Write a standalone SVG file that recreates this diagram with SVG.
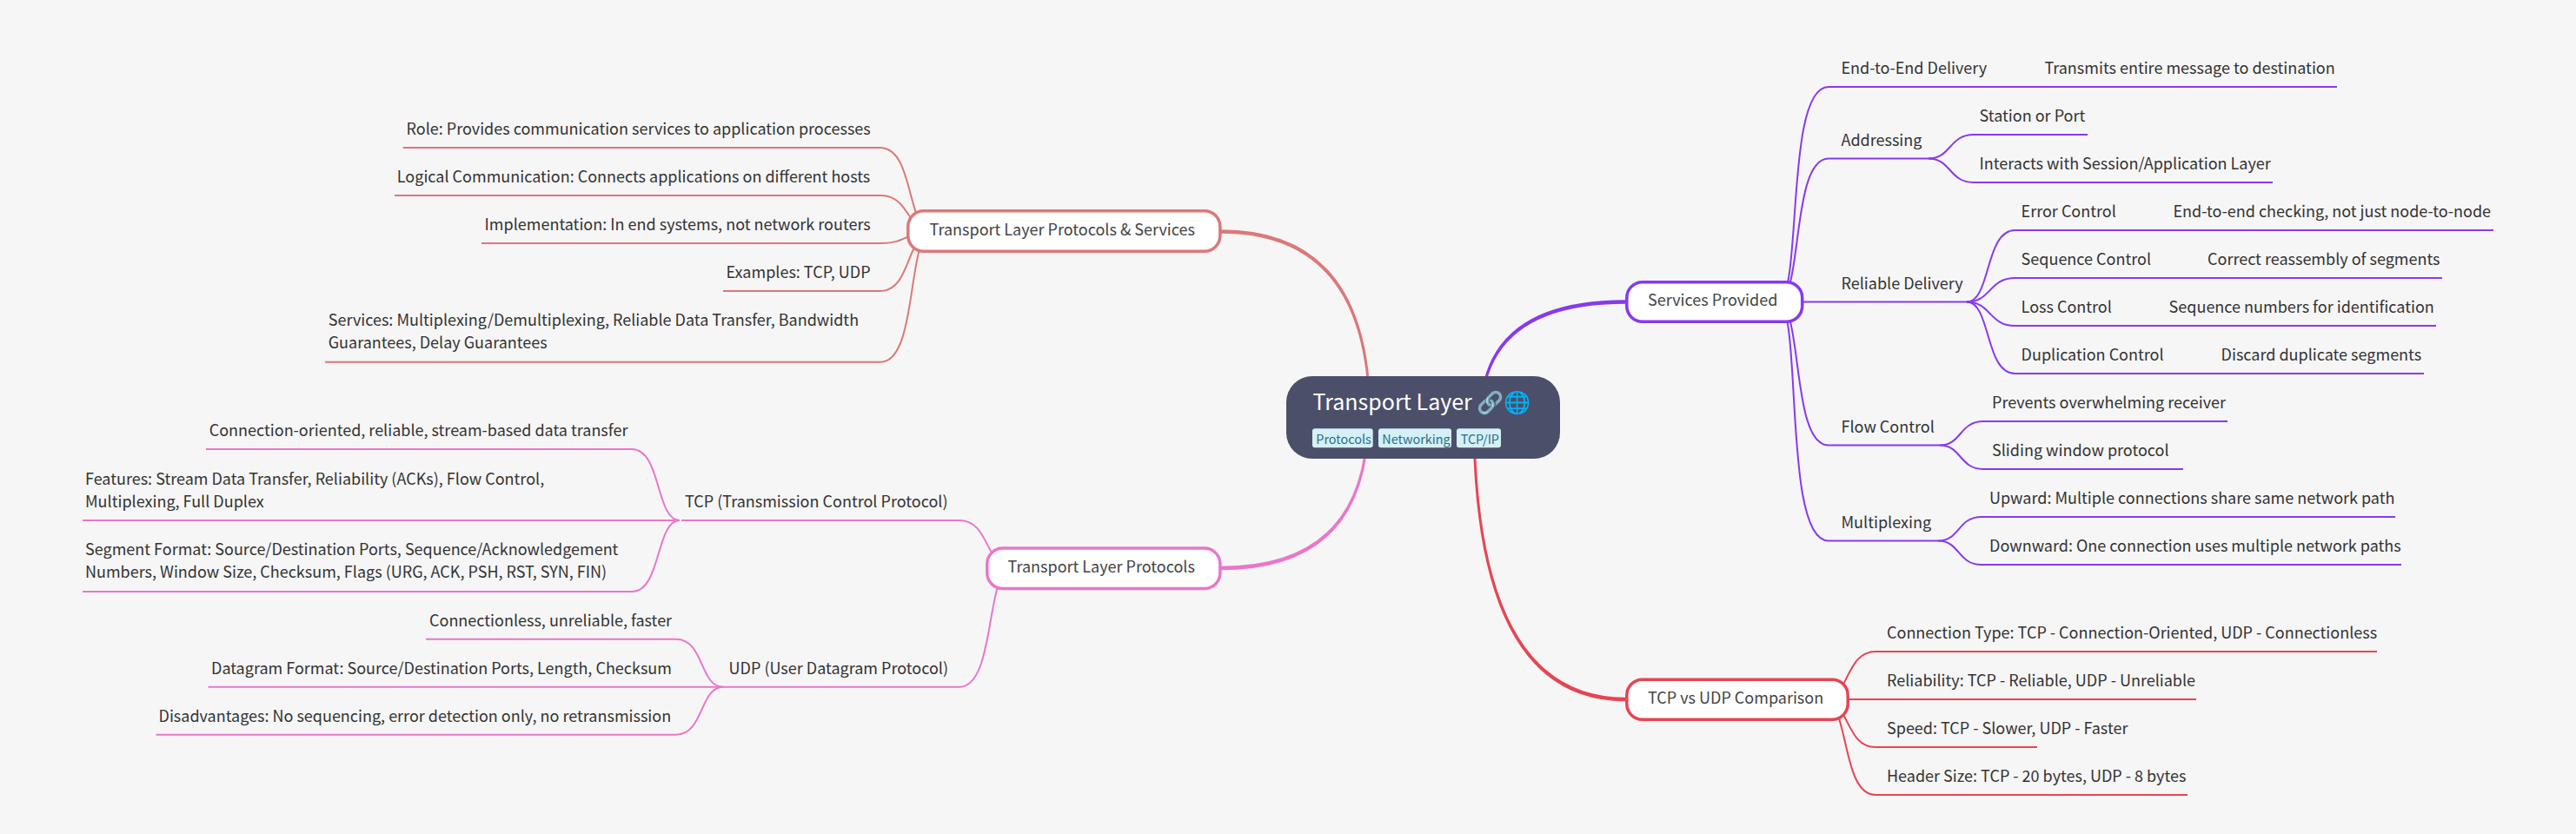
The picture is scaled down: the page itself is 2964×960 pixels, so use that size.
<svg xmlns="http://www.w3.org/2000/svg" width="2964" height="960" viewBox="0 0 2964 960">
<style>
text{font-family:"Noto Sans CJK SC","Source Sans Pro","Noto Sans",sans-serif;font-size:18px;fill:#333}
.c{fill:none}
.s{stroke-width:2}
.mauve{stroke:#8839ef}.red{stroke:#e64553}.pink{stroke:#ea76cb}.flam{stroke:#dd7878}
.fmauve{fill:#8839ef}.fred{fill:#e64553}.fpink{fill:#ea76cb}.fflam{fill:#dd7878}
.box{fill:#fff;stroke-width:3.5}
.box+text{fill:#444446}
.tag{fill:#d6f0f8}
.tagt{fill:#276f86;font-size:14.4px}
.root{fill:#fff;font-size:25px}
</style>
<rect width="2964" height="960" fill="#f6f6f6"/>
<g id="connectors">
<path class="fmauve" d="M1702.500 480Q1702.500 345.250 1870 345.250V349.750Q1705.500 349.750 1705.500 480Z"/>
<path class="fred" d="M1694.500 480Q1694.500 807.250 1870 807.250V802.750Q1697.500 802.750 1697.500 480Z"/>
<path class="fflam" d="M1577.500 480Q1577.500 264.250 1405 264.250V268.750Q1574.500 268.750 1574.500 480Z"/>
<path class="fpink" d="M1575.500 480Q1575.500 656.250 1405 656.250V651.750Q1572.500 651.750 1572.500 480Z"/>
<g>
<path class="c s mauve" d="M2045 347.500C2075 347.500 2052.500 100 2104 100H2689"/>
<path class="c s mauve" d="M2045 347.500C2075 347.500 2060 182.500 2104 182.500H2226"/>
<path class="c s mauve" d="M2045 347.500H2270"/>
<path class="c s mauve" d="M2045 347.500C2075 347.500 2060 512.500 2104 512.500H2232"/>
<path class="c s mauve" d="M2045 347.500C2075 347.500 2050 622.500 2104 622.500H2231"/>
<path class="c s mauve" d="M2219 182.500C2245 182.500 2242.500 155 2271 155H2402"/>
<path class="c s mauve" d="M2219 182.500C2245 182.500 2242.500 210 2271 210H2615"/>
<path class="c s mauve" d="M2263 347.500C2291 347.500 2283.500 265 2318.600 265H2869"/>
<path class="c s mauve" d="M2263 347.500C2291 347.500 2288.500 320 2318.600 320H2810"/>
<path class="c s mauve" d="M2263 347.500C2291 347.500 2288.500 375 2318.600 375H2803"/>
<path class="c s mauve" d="M2263 347.500C2291 347.500 2283.500 430 2318.600 430H2789"/>
<path class="c s mauve" d="M2232 512.500C2257 512.500 2254.500 485 2282 485H2563"/>
<path class="c s mauve" d="M2232 512.500C2257 512.500 2254.500 540 2282 540H2512"/>
<path class="c s mauve" d="M2230.500 622.500C2255 622.500 2252.500 595 2280 595H2756"/>
<path class="c s mauve" d="M2230.500 622.500C2255 622.500 2252.500 650 2280 650H2763"/>
</g>
<g>
<path class="c s red" d="M2098 805C2128 805 2123 750 2158 750H2735"/>
<path class="c s red" d="M2098 805H2527"/>
<path class="c s red" d="M2098 805C2128 805 2123 860 2158 860H2344"/>
<path class="c s red" d="M2098 805C2128 805 2118 915 2158 915H2517"/>
</g>
<g>
<path class="c s flam" d="M1073 266.500C1043 266.500 1052 170 1013 170H463.800"/>
<path class="c s flam" d="M1073 266.500C1043 266.500 1047 225 1013 225H454"/>
<path class="c s flam" d="M1073 266.500C1043 266.500 1044 280 1013 280H554"/>
<path class="c s flam" d="M1073 266.500C1043 266.500 1049 335 1013 335H832"/>
<path class="c s flam" d="M1073 266.500C1043 266.500 1057 416.700 1013 416.700H374"/>
</g>
<g>
<path class="c s pink" d="M1164 654C1134 654 1139 599 1104 599H784"/>
<path class="c s pink" d="M1164 654C1134 654 1146 790.700 1104 790.700H832"/>
<path class="c s pink" d="M782 599C754.500 599 761 517 727 517H237"/>
<path class="c s pink" d="M782 599H95"/>
<path class="c s pink" d="M782 599C754.500 599 761 681 727 681H95"/>
<path class="c s pink" d="M832 790.700C805 790.700 810 735.700 778 735.700H490"/>
<path class="c s pink" d="M832 790.700H239.500"/>
<path class="c s pink" d="M832 790.700C805 790.700 810 845.700 778 845.700H179.600"/>
</g>
</g>
<g id="root">
<rect x="1480" y="433" width="315" height="95" rx="30" fill="#4c4f69"/>
<text class="root" x="1510.500" y="472">Transport Layer 🔗🌐</text>
<rect class="tag" x="1510" y="493.300" width="69.700" height="22" rx="3"/><text class="tagt" x="1514.300" y="511">Protocols</text>
<rect class="tag" x="1586" y="493.300" width="84" height="22" rx="3"/><text class="tagt" x="1590.300" y="511">Networking</text>
<rect class="tag" x="1676" y="493.300" width="51" height="22" rx="3"/><text class="tagt" x="1680.700" y="511">TCP/IP</text>
</g>
<g id="services-provided"><rect class="box mauve" x="1871.800" y="324.800" width="201.900" height="45.400" rx="18"/><text x="1896" y="352">Services Provided</text></g>
<g id="tcp-vs-udp"><rect class="box red" x="1871.800" y="782.300" width="254.400" height="45.900" rx="18"/><text x="1896" y="810">TCP vs UDP Comparison</text></g>
<g id="protocols-services"><rect class="box flam" x="1044.800" y="242.800" width="359.100" height="46.400" rx="18"/><text x="1069.600" y="271">Transport Layer Protocols &amp; Services</text></g>
<g id="protocols"><rect class="box pink" x="1135.800" y="631.100" width="268.100" height="46.400" rx="18"/><text x="1159.600" y="659">Transport Layer Protocols</text></g>
<g id="end-to-end"><text x="2118.500" y="85">End-to-End Delivery</text></g>
<g id="transmits"><text x="2352.400" y="85">Transmits entire message to destination</text></g>
<g id="addressing"><text x="2118.500" y="167.500">Addressing</text></g>
<g id="station"><text x="2277.600" y="140">Station or Port</text></g>
<g id="interacts"><text x="2277.600" y="195">Interacts with Session/Application Layer</text></g>
<g id="reliable"><text x="2118.500" y="332.500">Reliable Delivery</text></g>
<g id="error"><text x="2325.600" y="250">Error Control</text></g>
<g id="error-d"><text x="2500.500" y="250">End-to-end checking, not just node-to-node</text></g>
<g id="sequence"><text x="2325.600" y="305">Sequence Control</text></g>
<g id="sequence-d"><text x="2540" y="305">Correct reassembly of segments</text></g>
<g id="loss"><text x="2325.600" y="360">Loss Control</text></g>
<g id="loss-d"><text x="2495.600" y="360">Sequence numbers for identification</text></g>
<g id="duplication"><text x="2325.600" y="415">Duplication Control</text></g>
<g id="duplication-d"><text x="2555.600" y="415">Discard duplicate segments</text></g>
<g id="flow"><text x="2118.500" y="497.500">Flow Control</text></g>
<g id="prevents"><text x="2292" y="470">Prevents overwhelming receiver</text></g>
<g id="sliding"><text x="2292" y="525">Sliding window protocol</text></g>
<g id="multiplexing"><text x="2118.500" y="607.500">Multiplexing</text></g>
<g id="upward"><text x="2289" y="580">Upward: Multiple connections share same network path</text></g>
<g id="downward"><text x="2289" y="635">Downward: One connection uses multiple network paths</text></g>
<g id="conn-type"><text x="2171" y="735">Connection Type: TCP - Connection-Oriented, UDP - Connectionless</text></g>
<g id="reliability"><text x="2171" y="790">Reliability: TCP - Reliable, UDP - Unreliable</text></g>
<g id="speed"><text x="2171" y="845">Speed: TCP - Slower, UDP - Faster</text></g>
<g id="header"><text x="2171" y="900">Header Size: TCP - 20 bytes, UDP - 8 bytes</text></g>
<g id="role"><text x="467.500" y="155">Role: Provides communication services to application processes</text></g>
<g id="logical"><text x="456.800" y="210">Logical Communication: Connects applications on different hosts</text></g>
<g id="implementation"><text x="557.600" y="265">Implementation: In end systems, not network routers</text></g>
<g id="examples"><text x="835.600" y="320">Examples: TCP, UDP</text></g>
<g id="services-l"><text x="377.700" y="375">Services: Multiplexing/Demultiplexing, Reliable Data Transfer, Bandwidth</text><text x="377.700" y="401">Guarantees, Delay Guarantees</text></g>
<g id="tcp"><text x="788" y="584">TCP (Transmission Control Protocol)</text></g>
<g id="tcp-conn"><text x="240.700" y="502">Connection-oriented, reliable, stream-based data transfer</text></g>
<g id="tcp-features"><text x="98" y="557.500">Features: Stream Data Transfer, Reliability (ACKs), Flow Control,</text><text x="98" y="583.700">Multiplexing, Full Duplex</text></g>
<g id="tcp-segment"><text x="98" y="639">Segment Format: Source/Destination Ports, Sequence/Acknowledgement</text><text x="98" y="665">Numbers, Window Size, Checksum, Flags (URG, ACK, PSH, RST, SYN, FIN)</text></g>
<g id="udp"><text x="838.600" y="775.700">UDP (User Datagram Protocol)</text></g>
<g id="udp-conn"><text x="494" y="720.700">Connectionless, unreliable, faster</text></g>
<g id="udp-format"><text x="243" y="775.700">Datagram Format: Source/Destination Ports, Length, Checksum</text></g>
<g id="udp-dis"><text x="182.500" y="830.700">Disadvantages: No sequencing, error detection only, no retransmission</text></g>
</svg>
